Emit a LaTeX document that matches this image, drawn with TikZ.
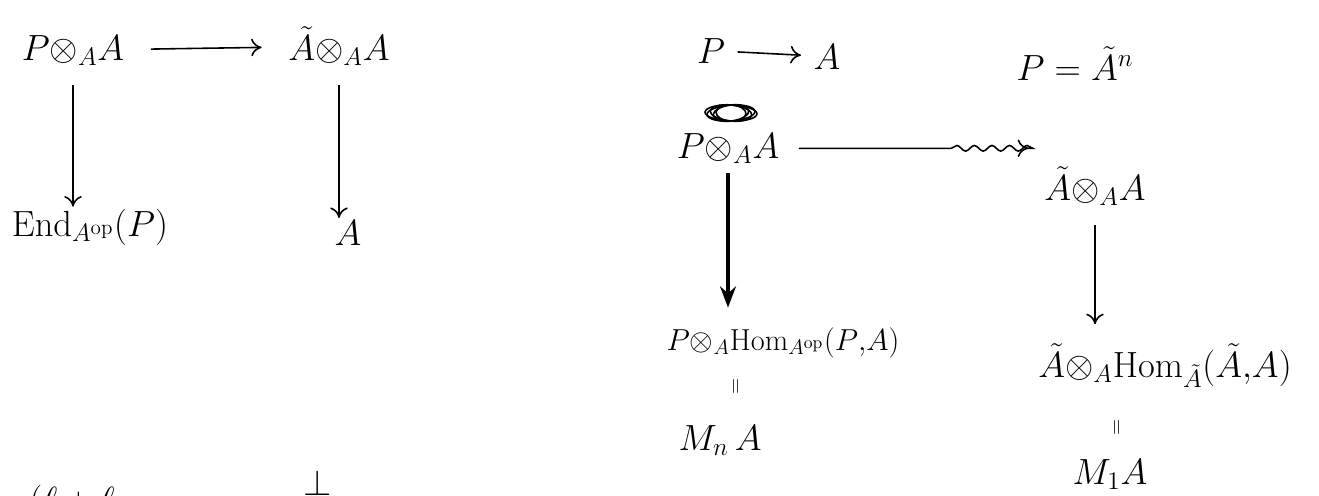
\documentclass[tikz,border=0pt]{standalone}
\usepackage{amsmath,amssymb}
\usepackage{tikz}
\usetikzlibrary{arrows.meta,decorations.pathmorphing}

\newcommand{\tens}{{\otimes}}

\begin{document}
\begin{tikzpicture}[x=0.02cm, y=-0.02cm,
    every node/.style={font=\huge, inner sep=1pt, anchor=base},
    wide/.style={font=\LARGE},
    map/.style={-{To[length=6pt,width=10pt]}, line width=0.9pt},
    eqv/.style={font=\large, rotate=90, anchor=center}]

\useasboundingbox (0,0) rectangle (1319,495);
\clip (0,0) rectangle (1319,495);

% Left square
\node (PA) at (73,60) {$P\tens_A A$};
\node (AtA) at (339,60) {$\tilde{A}\tens_A A$};
\node (End) at (90,236) {$\mathrm{End}_{A^{\mathrm{op}}}(P)$};
\node (Al) at (348,245) {$A$};

\draw[map, shorten <=14pt, shorten >=14pt] (PA) -- (AtA);
\draw[map, shorten <=10pt] (PA.south) -- (PA.south |- End.north);
\draw[map, shorten <=10pt] (AtA.south) -- (AtA.south |- Al.north);

% Right square
\node (p) at (711,63) {$P$};
\node (a) at (827,69) {$A$};
\draw[map, shorten <=6pt, shorten >=6pt] (p) -- (a);
\node (Pn) at (1075,80) {$P=\tilde{A}^n$};

% crossed out
\foreach \r/\t in {0.42/-6,0.48/4,0.52/-2,0.36/8,0.3/-3}
  \draw[line width=0.9pt, rotate around={\t:(731,113)}]
    (731,113) ellipse [x radius=\r cm, y radius=0.16cm];

\node (PAr) at (728,158) {$P\tens_A A$};
\node (AtAr) at (1095,200) {$\tilde{A}\tens_A A$};
\node[wide] (PHom) at (783,350) {$P\tens_A \mathrm{Hom}_{A^{\mathrm{op}}}(P{,}A)$};
\node (AtHom) at (1165,377) {$\tilde{A}\tens_A \mathrm{Hom}_{\tilde{A}}(\tilde{A}{,}A)$};
\node[eqv] (eqn) at (737,386) {$=$};
\node (Mn) at (720,450) {$M_n\,A$};
\node[eqv] (eqone) at (1118,427) {$=$};
\node (Mone) at (1110,484) {$M_1A$};

\draw[map, decorate, decoration={snake, amplitude=1.6pt, segment length=10pt,
    pre length=3.4cm, post length=4pt}, shorten <=10pt, shorten >=8pt]
  (PAr.east) -- (AtAr.west |- PAr.east);
\draw[-{Stealth[length=12pt,width=9pt]}, line width=2.4pt, shorten <=4pt, shorten >=10pt]
  (PAr.south) -- (PAr.south |- PHom.north);
\draw[map, shorten <=10pt, shorten >=10pt] (AtAr.south) -- (AtAr.south |- AtHom.north);

% cut off at the bottom
\node (cut) at (72,512) {$(\ell+\ell$};
\node (perp) at (318,495) {$\perp$};

\end{tikzpicture}
\end{document}
